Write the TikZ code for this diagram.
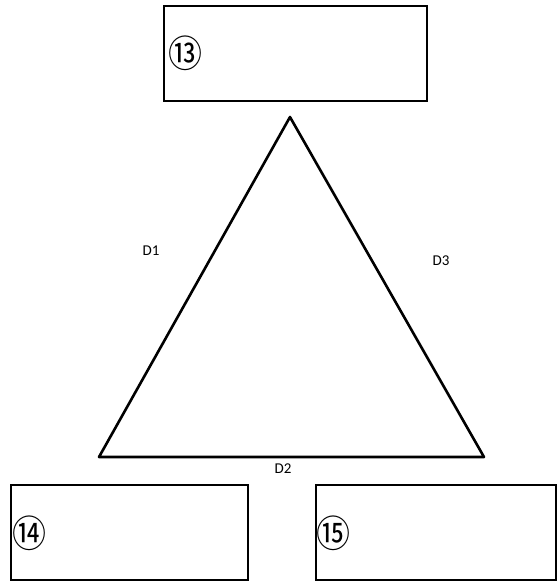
\documentclass[tikz,border=0pt]{standalone}
\usepackage{fontspec}
\setmainfont{Carlito}
\newfontfamily\circfont{Noto Sans CJK JP}
\usetikzlibrary{positioning}

\begin{document}
\begin{tikzpicture}[x=1pt,y=-1pt,
  box/.style={draw,line width=1.8pt,minimum width=#1,minimum height=95pt,inner sep=0pt},
  num/.style={font=\circfont\fontsize{34}{34}\selectfont,inner sep=0pt,anchor=west,yscale=1.1},
  side/.style={font=\fontsize{15}{15}\selectfont,inner sep=0pt}]
\useasboundingbox (0,0) rectangle (560,582);
\node[box=263pt] (top) at (295.5,53.5) {};
\node[box=237pt] (left) at (129.5,532.5) {};
\node[box=240pt] (right) at (436,532.5) {};
\node[num] (n13) at (168,53) {⑬};
\node[num] (n14) at (12,533) {⑭};
\node[num] (n15) at (316,533) {⑮};
\coordinate (a) at (290,117);
\coordinate (b) at (99,457);
\coordinate (c) at (484,457);
\draw[line width=2.6pt,line join=round] (a)--(b)--(c)--cycle;
\node[side] (d1) at (151,251) {D1};
\node[side] (d3) at (441,261) {D3};
\node[side] (d2) at (283,469) {D2};
\end{tikzpicture}
\end{document}
